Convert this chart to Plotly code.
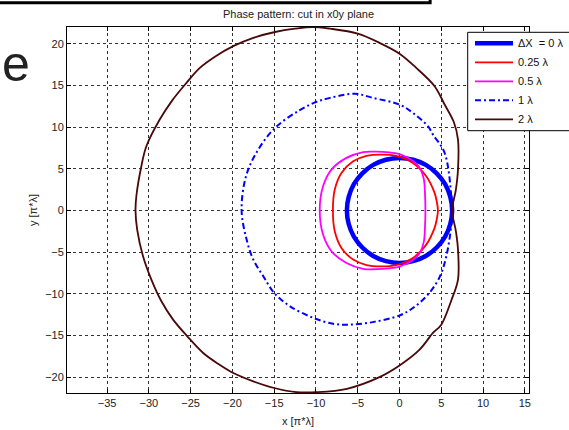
import plotly.graph_objects as go

# ---- data (x, y in [pi*lambda]) ----
labels = ["ΔX  = 0 λ", "0.25 λ", "0.5 λ", "1 λ", "2 λ"]

x_d0 = [6.3, 6.08, 5.46, 4.45, 3.15, 1.63, 0.0, -1.63, -3.15, -4.45, -5.46, -6.08, -6.3,
        -6.08, -5.46, -4.45, -3.15, -1.63, 0.0, 1.63, 3.15, 4.45, 5.46, 6.08, 6.3]
y_d0 = [0.0, 1.63, 3.15, 4.45, 5.46, 6.08, 6.3, 6.08, 5.46, 4.45, 3.15, 1.63, 0.0,
        -1.63, -3.15, -4.45, -5.46, -6.08, -6.3, -6.08, -5.46, -4.45, -3.15, -1.63, 0.0]

x_d025 = [4.6, 4.45, 4.2, 3.2, 1.6, -0.4, -2.2, -3.95, -5.55, -6.95, -7.75, -7.97,
          -7.75, -6.95, -5.55, -3.95, -2.2, -0.4, 1.6, 3.2, 4.2, 4.45, 4.6]
y_d025 = [0.0, 1.1, 2.1, 4.1, 5.7, 6.55, 6.7, 6.55, 5.9, 4.5, 2.5, 0.0,
          -2.5, -4.5, -5.9, -6.55, -6.7, -6.55, -5.7, -4.1, -2.1, -1.1, 0.0]

x_d05 = [3.1, 3.05, 2.9, 2.3, 1.5, 0.8, -0.2, -1.2, -2.8, -4.35, -6.35, -8.15, -9.15, -9.55,
         -9.15, -8.15, -6.35, -4.35, -2.8, -1.2, -0.2, 0.8, 1.5, 2.3, 2.9, 3.05, 3.1]
y_d05 = [0.0, 2.0, 3.8, 5.3, 6.0, 6.4, 6.8, 6.95, 7.05, 7.0, 6.3, 4.9, 2.9, 0.0,
         -2.9, -4.9, -6.3, -7.0, -7.05, -6.95, -6.8, -6.4, -6.0, -5.3, -3.8, -2.0, 0.0]

x_d1 = [6.26, 6.2, 5.4, 4.0, 3.4, 1.6, 0.0, -3.2, -5.35, -8.3, -10.0, -12.0, -15.0, -17.2, -18.4, -18.9,
        -18.3, -17.5, -16.3, -15.0, -13.1, -10.3, -7.95, -6.0, -3.2, 0.0, 1.6, 3.4, 4.8, 5.6, 6.2, 6.26]
y_d1 = [0.0, 1.7, 6.9, 9.1, 10.1, 11.7, 12.7, 13.5, 14.0, 13.5, 13.0, 12.0, 9.8, 6.8, 4.0, 0.0,
        -3.5, -5.9, -7.9, -9.9, -11.5, -12.9, -13.6, -13.7, -13.4, -12.6, -11.7, -10.1, -8.0, -5.5, -1.7, 0.0]

x_d2 = [6.3, 6.75, 7.0, 7.0, 6.5, 5.4, 4.2, 2.0, 0.0, -2.4, -5.0, -8.3, -10.4, -12.5, -14.9, -17.5, -19.9,
        -22.0, -23.9, -25.5, -27.2, -28.7, -30.3, -30.9, -31.5, -31.6, -31.4, -30.7, -29.7, -28.5, -27.1,
        -25.4, -23.5, -21.7, -19.9, -17.5, -15.0, -12.3, -9.9, -6.3, -2.4, 0.0, 2.4, 4.0, 5.0, 6.2, 7.0,
        7.0, 6.75, 6.3]
y_d2 = [0.0, 2.5, 4.9, 8.5, 10.6, 12.7, 14.9, 17.1, 18.8, 20.1, 21.2, 21.8, 22.0, 21.8, 21.4, 20.7, 19.7,
        18.5, 17.1, 15.3, 13.2, 10.9, 7.7, 5.3, 1.7, 0.0, -2.3, -5.5, -8.3, -10.9, -13.1,
        -15.1, -17.1, -18.4, -19.5, -20.5, -21.3, -21.8, -21.8, -21.4, -20.0, -18.6, -16.7, -14.7, -13.7, -10.8, -8.3,
        -4.7, -2.5, 0.0]

x_ticks = [-35, -30, -25, -20, -15, -10, -5, 0, 5, 10, 15]
y_ticks = [-20, -15, -10, -5, 0, 5, 10, 15, 20]

series = [
    (x_d0, y_d0, "#0000ff", 4.5, "solid"),
    (x_d025, y_d025, "#ff0000", 1.8, "solid"),
    (x_d05, y_d05, "#ff00ff", 1.8, "solid"),
    (x_d1, y_d1, "#0000ff", 2.0, "6px,3px,2px,3px"),
    (x_d2, y_d2, "#4a0808", 1.8, "solid"),
]

FONT = "Liberation Sans, Arial, sans-serif"

# plot-area geometry (pixels) used to place the hand-drawn legend box
PL, PW, PT, PH = 67, 462, 27, 366
def px(xp):
    return (xp - PL) / PW
def py(yp):
    return (PT + PH - yp) / PH

fig = go.Figure()
for (xs, ys, col, w, dash), name in zip(series, labels):
    fig.add_trace(go.Scatter(x=xs, y=ys, mode="lines", name=name, showlegend=False,
                             line=dict(color=col, width=w, dash=dash, shape="spline", smoothing=1.0)))

axis_common = dict(
    showgrid=True, gridcolor="#333333", griddash="3px,3px", gridwidth=1,
    zeroline=False, showline=True, linecolor="black", linewidth=1, mirror="ticks",
    ticks="inside", ticklen=4, tickcolor="black",
    tickfont=dict(family=FONT, size=11, color="#222222"),
)
fig.update_xaxes(range=[-39.8, 15.5], tickmode="array", tickvals=x_ticks, **axis_common)
fig.update_yaxes(range=[-21.9, 22.0], tickmode="array", tickvals=y_ticks, **axis_common)

shapes = [
    dict(type="path", xref="paper", yref="paper",
         path="M -0.16,1.066 L 0.786,1.066 L 0.786,1.09",
         line=dict(color="black", width=3)),
    dict(type="rect", xref="paper", yref="paper", x0=px(467.7), x1=px(640), y0=py(130.7), y1=py(32.3),
         line=dict(color="black", width=1), fillcolor="white", layer="above"),
]
annotations = [
    dict(text="Phase pattern: cut in x0y plane", xref="paper", yref="paper",
         x=0.5, y=1.0363, xanchor="center", yanchor="middle", showarrow=False,
         font=dict(family=FONT, size=11, color="#222222")),
    dict(text="x [π*λ]", xref="paper", yref="paper", x=0.5, y=-0.0757,
         xanchor="center", yanchor="middle", showarrow=False,
         font=dict(family=FONT, size=11, color="#222222")),
    dict(text="y [π*λ]", xref="paper", yref="paper", x=-0.0736, y=0.5,
         xanchor="center", yanchor="middle", showarrow=False, textangle=-90,
         font=dict(family=FONT, size=11, color="#222222")),
    dict(text="e", xref="paper", yref="paper", x=px(0), y=0.9,
         xanchor="left", yanchor="middle", showarrow=False,
         font=dict(family=FONT, size=50, color="#222222")),
]
row_y = [43.3, 62.3, 81.3, 100.3, 119.3]
for (xs, ys, col, w, dash), name, ry in zip(series, labels, row_y):
    shapes.append(dict(type="line", xref="paper", yref="paper", x0=px(475), x1=px(513),
                       y0=py(ry), y1=py(ry), layer="above",
                       line=dict(color=col, width=w, dash=dash)))
    annotations.append(dict(text=name, xref="paper", yref="paper", x=px(516), y=py(ry),
                            xanchor="left", yanchor="middle", showarrow=False,
                            font=dict(family=FONT, size=11, color="#111111")))

fig.update_layout(
    width=569, height=430,
    margin=dict(l=PL, r=569 - PL - PW, t=PT, b=430 - PT - PH),
    paper_bgcolor="white", plot_bgcolor="white",
    showlegend=False,
    shapes=shapes,
    annotations=annotations,
)

fig.write_html("out.html")
